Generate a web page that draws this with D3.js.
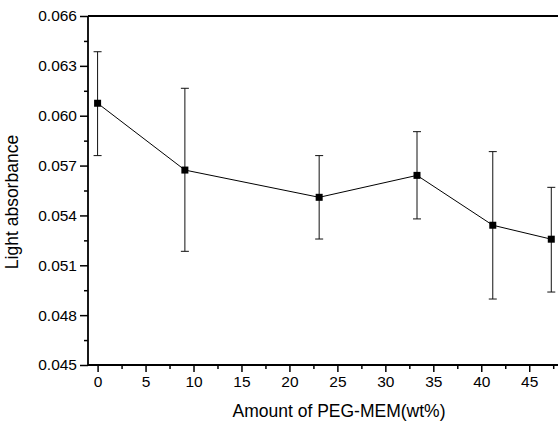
<!DOCTYPE html>
<html><head><meta charset="utf-8">
<script src="https://cdn.jsdelivr.net/npm/d3@7"></script>
<style>body{margin:0;background:#fff}svg{display:block}</style>
</head><body>
<script>
const pegAmount = [0, 9.1, 23.1, 33.3, 41.2, 47.3];
const absorbance = [0.06075, 0.05673, 0.05509, 0.05641, 0.05341, 0.05257];
const errUpper = [0.06385, 0.06165, 0.0576, 0.05904, 0.05784, 0.05569];
const errLower = [0.0576, 0.05184, 0.05258, 0.05379, 0.04897, 0.04939];
const xTicks = [0, 5, 10, 15, 20, 25, 30, 35, 40, 45];
const xMinor = [2.5, 7.5, 12.5, 17.5, 22.5, 27.5, 32.5, 37.5, 42.5, 47.5];
const yTicks = [0.045, 0.048, 0.051, 0.054, 0.057, 0.060, 0.063, 0.066];
const yMinor = [0.0465, 0.0495, 0.0525, 0.0555, 0.0585, 0.0615, 0.0645];
const xTitle = "Amount of PEG-MEM(wt%)";
const yTitle = "Light absorbance";

const W = 558, H = 426;
const L = 88, R = 558, T = 16, B = 365;
const font = "Liberation Sans, Arial, sans-serif";
const svg = d3.select("body").append("svg").attr("width", W).attr("height", H);
const x = d3.scaleLinear().domain([-1, 48]).range([L, R]);
const y = d3.scaleLinear().domain([0.045, 0.066]).range([B, T]);

// axes
const xAxis = svg.append("g").attr("transform", `translate(0,${B})`)
  .call(d3.axisBottom(x).tickValues(xTicks).tickFormat(d3.format("d")).tickSize(7).tickPadding(4));
const xAxisMinor = svg.append("g").attr("transform", `translate(0,${B})`)
  .call(d3.axisBottom(x).tickValues(xMinor).tickFormat("").tickSize(4));
const yAxis = svg.append("g").attr("transform", `translate(${L},0)`)
  .call(d3.axisLeft(y).tickValues(yTicks).tickFormat(d3.format(".3f")).tickSize(8).tickPadding(3));
const yAxisMinor = svg.append("g").attr("transform", `translate(${L},0)`)
  .call(d3.axisLeft(y).tickValues(yMinor).tickFormat("").tickSize(4));
[xAxis, xAxisMinor, yAxis, yAxisMinor].forEach(g => {
  g.select(".domain").remove();
  g.selectAll("line").attr("stroke", "#000").attr("stroke-width", 1.5);
  g.selectAll("text").attr("font-family", font).attr("font-size", 15.5).attr("fill", "#000");
});
// frame lines
svg.append("line").attr("x1", L).attr("x2", R).attr("y1", B).attr("y2", B).attr("stroke", "#000").attr("stroke-width", 1.8);
svg.append("line").attr("x1", L).attr("x2", R).attr("y1", T).attr("y2", T).attr("stroke", "#000").attr("stroke-width", 1.8);
svg.append("line").attr("x1", L).attr("x2", L).attr("y1", T).attr("y2", B).attr("stroke", "#000").attr("stroke-width", 1.8);

const data = pegAmount.map((v, i) => ({x: v, y: absorbance[i], hi: errUpper[i], lo: errLower[i]}));

// error bars
const eb = svg.append("g").attr("stroke", "#111").attr("stroke-width", 1);
data.forEach(d => {
  eb.append("line").attr("x1", x(d.x)).attr("x2", x(d.x)).attr("y1", y(d.hi)).attr("y2", y(d.lo));
  eb.append("line").attr("x1", x(d.x) - 4).attr("x2", x(d.x) + 4).attr("y1", y(d.hi)).attr("y2", y(d.hi));
  eb.append("line").attr("x1", x(d.x) - 4).attr("x2", x(d.x) + 4).attr("y1", y(d.lo)).attr("y2", y(d.lo));
});

// line
svg.append("path").datum(data)
  .attr("d", d3.line().x(d => x(d.x)).y(d => y(d.y)))
  .attr("fill", "none").attr("stroke", "#000").attr("stroke-width", 1);

// markers
svg.append("g").selectAll("rect").data(data).join("rect")
  .attr("x", d => x(d.x) - 3.5).attr("y", d => y(d.y) - 3.5)
  .attr("width", 7).attr("height", 7).attr("fill", "#000");

// titles
svg.append("text").attr("x", 339).attr("y", 417).attr("text-anchor", "middle")
  .attr("font-family", font).attr("font-size", 17.5).text(xTitle);
svg.append("text").attr("transform", "translate(18,202) rotate(-90)").attr("text-anchor", "middle")
  .attr("font-family", font).attr("font-size", 17.5).text(yTitle);
</script>
</body></html>
